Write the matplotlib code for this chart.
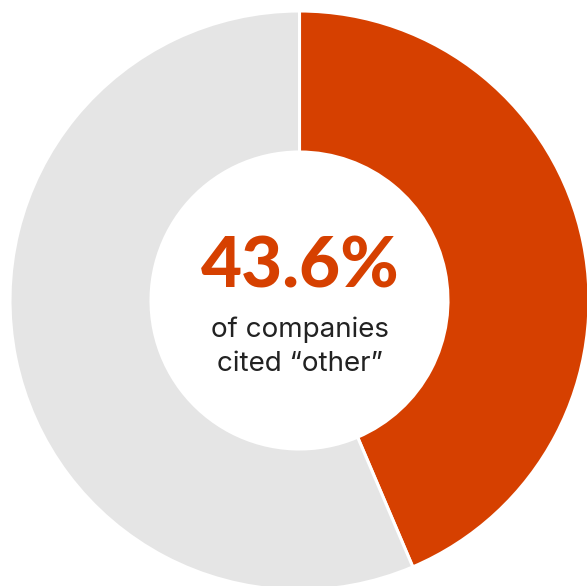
import matplotlib
matplotlib.use("Agg")
import matplotlib.pyplot as plt

labels = ["Other", "Rest"]
values = [43.6, 56.4]
colors = ["#D64000", "#E5E5E5"]
headline = "43.6%"
subtext = "of companies\ncited \u201cother\u201d"

fig = plt.figure(figsize=(5.87, 5.86), dpi=100)
ax = fig.add_axes([0, 0, 1, 1])
ax.pie(values, colors=colors, center=(299.5, 285.5), radius=289.5,
       startangle=90, counterclock=False,
       wedgeprops=dict(width=141, edgecolor="white", linewidth=2.2))
ax.set_xlim(0, 587)
ax.set_ylim(0, 586)
ax.set_aspect("equal")
ax.axis("off")

ax.text(300, 586 - 267, headline, ha="center", va="center",
        fontsize=51, fontweight="black", family="Lato", color=colors[0])
ax.text(300, 586 - 347, subtext, ha="center", va="center",
        fontsize=20, family="Inter", color="#222222", linespacing=1.4)

fig.savefig("out.png", dpi=100)
